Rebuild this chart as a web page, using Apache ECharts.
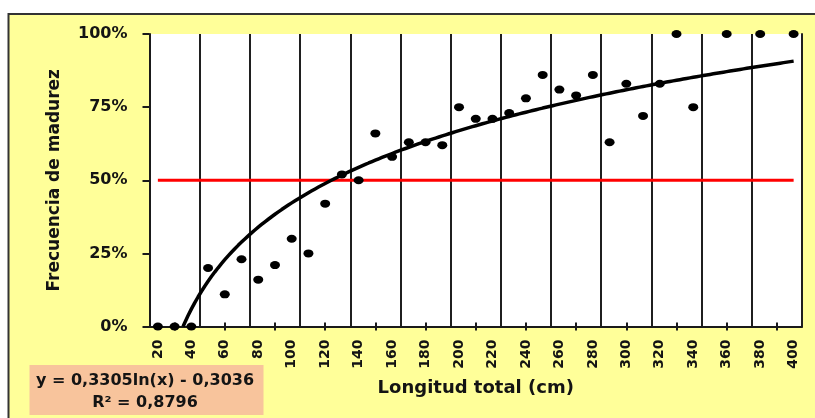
<!DOCTYPE html>
<html>
<head>
<meta charset="utf-8">
<script src="https://cdn.jsdelivr.net/npm/echarts@6/dist/echarts.min.js"></script>
<style>
html,body{margin:0;padding:0;background:#fff;}
#c{width:815px;height:418px;}
</style>
</head>
<body>
<div id="c"></div>
<script>
// Category labels of the x axis (cm)
var categories = ['20','30','40','50','60','70','80','90','100','110','120','130','140','150','160','170','180','190','200','210','220','230','240','250','260','270','280','290','300','310','320','330','340','350','360','370','380','390','400'];
// Observed points: total length (cm) and maturity frequency
var lengths = [20,30,40,50,60,70,80,90,100,110,120,130,140,150,160,170,180,190,200,210,220,230,240,250,260,270,280,290,300,310,320,330,340,360,380,400];
var freq = [0,0,0,0.20,0.11,0.23,0.16,0.21,0.30,0.25,0.42,0.52,0.50,0.66,0.58,0.63,0.63,0.62,0.75,0.71,0.71,0.73,0.78,0.86,0.81,0.79,0.86,0.63,0.83,0.72,0.83,1.00,0.75,1.00,1.00,1.00];
// 50% reference line end points (cm)
var refLine = [[20,0.5],[400,0.5]];
// Logarithmic trendline coefficients (x = category index)
var trendA = 0.3305, trendB = -0.3036;
var yTicks = [0, 0.25, 0.5, 0.75, 1];

var pts = lengths.map(function(l, i){ return [l, freq[i]]; });
var trend = [];
(function(){
  var t0 = Math.exp(-trendB / trendA);
  var cm0 = 10 + 10 * t0;
  trend.push([cm0, 0]);
  for (var cm = Math.ceil(cm0); cm <= 400; cm += 2) {
    var t = (cm - 10) / 10;
    trend.push([cm, trendA * Math.log(t) + trendB]);
  }
  if (trend[trend.length-1][0] !== 400) trend.push([400, trendA * Math.log(39) + trendB]);
})();

var FONT = 'DejaVu Sans';
var TXT = '#141414';
var chart = echarts.init(document.getElementById('c'));
chart.setOption({
  backgroundColor: '#ffffff',
  animation: false,
  graphic: [
    {type:'rect', z:-100, silent:true, shape:{x:8.5,y:14,width:830,height:430}, style:{fill:'#FFFF99', stroke:'#333333', lineWidth:2}},
    {type:'rect', z:100, silent:true, shape:{x:29.5,y:365,width:234,height:50}, style:{fill:'#F8C49C'}},
    {type:'text', z:101, silent:true, x:145, y:380.5, style:{text:'y = 0,3305ln(x) - 0,3036', font:'bold 16px "' + FONT + '"', fill:TXT, align:'center', verticalAlign:'middle'}},
    {type:'text', z:101, silent:true, x:145, y:402.5, style:{text:'R² = 0,8796', font:'bold 16px "' + FONT + '"', fill:TXT, align:'center', verticalAlign:'middle'}}
  ],
  grid: {left:149.5, right:13, top:34, bottom:91.5, show:true, backgroundColor:'#ffffff', borderWidth:0, containLabel:false},
  xAxis: [
    {
      type:'category', data:categories, position:'bottom', boundaryGap:true,
      axisLine:{show:true, lineStyle:{color:'#1a1a1a', width:2}},
      axisTick:{show:true, alignWithLabel:true, length:4, inside:false, interval:function(i){return i % 3 === 1;}, lineStyle:{color:'#1a1a1a', width:2}},
      axisLabel:{interval:1, rotate:90, margin:13, fontFamily:FONT, fontWeight:'bold', fontSize:14, color:TXT},
      splitLine:{show:true, interval:function(i){return i % 3 === 0 && i > 0;}, lineStyle:{color:'#1f1f1f', width:2}},
      name:'Longitud total (cm)', nameLocation:'middle', nameGap:53,
      nameTextStyle:{fontFamily:FONT, fontWeight:'bold', fontSize:18, color:TXT}
    },
    {
      type:'category', data:categories, position:'bottom', boundaryGap:true,
      axisLine:{show:false},
      axisTick:{show:true, alignWithLabel:true, length:4, inside:true, interval:function(i){return i % 3 === 1;}, lineStyle:{color:'#1a1a1a', width:2}},
      axisLabel:{show:false}, splitLine:{show:false}
    },
    {type:'value', show:false, min:15, max:405, position:'bottom', splitLine:{show:false}}
  ],
  yAxis: [
    {
      type:'value', min:0, max:1, interval:0.25, position:'left',
      axisLine:{show:true, lineStyle:{color:'#1a1a1a', width:2}},
      axisTick:{show:true, length:7, lineStyle:{color:'#1a1a1a', width:2}},
      axisLabel:{margin:22, fontFamily:FONT, fontWeight:'bold', fontSize:16, color:TXT, formatter:function(v){return Math.round(v*100) + '%';}},
      splitLine:{show:false},
      name:'Frecuencia de madurez', nameLocation:'middle', nameRotate:90, nameGap:86,
      nameTextStyle:{fontFamily:FONT, fontWeight:'bold', fontSize:17, color:TXT}
    },
    {
      type:'value', min:0, max:1, position:'right',
      axisLine:{show:true, onZero:false, lineStyle:{color:'#1f1f1f', width:2}},
      axisTick:{show:false}, axisLabel:{show:false}, splitLine:{show:false}
    }
  ],
  series: [
    {type:'line', xAxisIndex:2, yAxisIndex:0, data:refLine, symbol:'none', lineStyle:{color:'#ff0000', width:3}, z:3},
    {type:'line', xAxisIndex:2, yAxisIndex:0, data:trend, symbol:'none', smooth:false, lineStyle:{color:'#000000', width:3.5}, z:4},
    {type:'scatter', xAxisIndex:2, yAxisIndex:0, data:pts, symbol:'circle', symbolSize:[10,8], itemStyle:{color:'#000000', opacity:1}, z:5, clip:false}
  ]
});
</script>
</body>
</html>
